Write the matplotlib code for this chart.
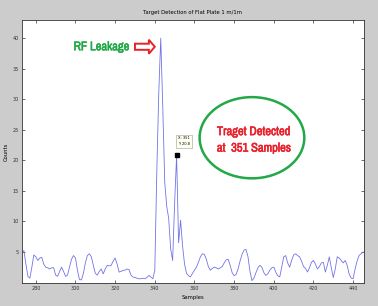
import matplotlib
matplotlib.use("Agg")
import matplotlib.pyplot as plt
import matplotlib.patches as mpatches
import matplotlib.patheffects as pe
from matplotlib import font_manager

# ─── DATA ─────────────────────────────────────────────────────────────────────

samples = list(range(273, 446))
amplitude = [
    5.0, 5.2, 3.0, 1.0, 0.7, 2.5, 4.5, 4.2, 3.6, 4.0,   # 273-282
    4.1, 3.0, 2.5, 2.4, 2.2, 2.4, 2.4, 1.2, 1.0, 1.8,   # 283-292
    2.5, 1.8, 1.0, 1.2, 2.5, 3.8, 4.4, 4.0, 2.0, 0.5,   # 293-302
    0.4, 1.5, 3.2, 4.4, 4.7, 4.2, 2.8, 1.5, 1.2, 1.8,   # 303-312
    2.2, 1.4, 2.2, 2.8, 2.7, 2.8, 3.5, 4.0, 3.0, 1.7,   # 313-322
    1.8, 2.0, 2.0, 2.2, 2.1, 1.2, 0.9, 0.8, 0.7, 0.6,   # 323-332
    0.6, 0.7, 0.6, 0.8, 1.15, 0.9, 0.6, 2.0, 18.0, 31.0,  # 333-342
    40.0, 29.0, 16.5, 12.5, 10.5, 5.5, 3.6, 13.0, 20.8, 6.5,  # 343-352
    10.2, 6.0, 3.0, 1.5, 1.1, 0.9, 1.5, 2.0, 2.5, 3.3,  # 353-362
    4.2, 4.7, 4.6, 3.8, 2.6, 2.0, 2.3, 2.5, 2.4, 2.2,   # 363-372
    2.4, 2.6, 3.2, 3.7, 3.8, 2.8, 1.6, 1.1, 1.3, 2.2,   # 373-382
    3.5, 4.6, 5.3, 5.4, 4.2, 1.8, 0.3, 0.7, 1.6, 2.4,   # 383-392
    2.8, 2.5, 1.6, 1.15, 1.4, 2.0, 2.4, 2.5, 1.7, 1.1,  # 393-402
    0.9, 2.5, 4.2, 4.4, 3.2, 2.5, 3.6, 4.5, 4.7, 4.4,   # 403-412
    4.2, 3.5, 2.6, 2.3, 1.7, 2.4, 3.3, 3.6, 3.0, 2.2,   # 413-422
    2.6, 3.2, 3.3, 1.7, 2.8, 4.2, 2.4, 0.8, 2.2, 4.2,   # 423-432
    4.0, 3.6, 3.2, 3.6, 2.8, 1.4, 0.7, 0.6, 2.2, 3.5,   # 433-442
    4.4, 4.7, 5.0,                                      # 443-445
]
target_sample = 351
target_value = 20.8
xticks = [280, 300, 320, 340, 360, 380, 400, 420, 440]
yticks = [5, 10, 15, 20, 25, 30, 35, 40]

# ─── COLORS ───────────────────────────────────────────────────────────────────

BG = "#cccccc"
LINE = "#7373e6"
GREEN = "#22a847"
RED = "#e8202a"

# look for a condensed face; otherwise fall back to smaller Liberation Sans
narrow = sorted({f.name for f in font_manager.fontManager.ttflist
                 if "narrow" in f.name.lower() or "condensed" in f.name.lower()})
if narrow:
    ANN = dict(family=[narrow[0], "DejaVu Sans"], fontsize=9)
else:
    ANN = dict(family=["Liberation Sans", "DejaVu Sans"], fontsize=6.8)


def bold(color):
    # thicken the strokes a little, the narrow face has no bold weight
    return [pe.withStroke(linewidth=0.4, foreground=color)]


fig = plt.figure(figsize=(3.78, 3.06), dpi=100)
fig.patch.set_facecolor(BG)
ax = fig.add_axes([0.058, 0.075, 0.905, 0.86])
ax.set_facecolor("white")

ax.plot(samples, amplitude, color=LINE, lw=0.6)
ax.plot([target_sample], [target_value], marker="s", color="black", ms=2.6)

ax.set_xlim(273, 445.5)
ax.set_ylim(-0.1, 43)
ax.set_xticks(xticks)
ax.set_yticks(yticks)
ax.tick_params(direction="in", length=2.5, width=0.5, labelsize=3.5,
               top=True, right=True, pad=2, colors="#333333")
for s in ax.spines.values():
    s.set_linewidth(0.6)
    s.set_color("#333333")

ax.set_title("Target Detection of Flat Plate 1 m/1m", fontsize=3.8, pad=4)
ax.set_xlabel("Samples", fontsize=3.8, labelpad=3)
ax.set_ylabel("Counts", fontsize=3.8, labelpad=3)

# ── data tip ──────────────────────────────────────────────────────────────────
ax.text(target_sample + 0.8, target_value + 2.3,
        f"X: {target_sample}\nY: {target_value}",
        fontsize=2.6, va="center", ha="left", linespacing=1.6,
        bbox=dict(boxstyle="square,pad=0.5", fc="#fffff2", ec="#999999", lw=0.4))

# ── RF leakage annotation ─────────────────────────────────────────────────────
ax.text(313, 38.6, "RF Leakage", color=GREEN, fontweight="bold",
        va="center", ha="center", path_effects=bold(GREEN), **ANN)
ax.add_patch(mpatches.FancyArrow(330, 38.6, 10, 0, width=1.0, head_width=2.3,
                                 head_length=3.0, length_includes_head=True,
                                 fc="white", ec=RED, lw=1.4, zorder=5))

# ── target detected ellipse ───────────────────────────────────────────────────
ax.add_patch(mpatches.Ellipse((389, 23.7), 52.8, 13.3, fill=False, ec=GREEN,
                              lw=1.8, zorder=4))
ax.text(371.3, 24.7, "Traget Detected", color=RED, fontweight="bold",
        va="center", ha="left", path_effects=bold(RED), **ANN)
ax.text(371.3, 22.0, "at  351 Samples", color=RED, fontweight="bold",
        va="center", ha="left", path_effects=bold(RED), **ANN)

plt.savefig("out.png", dpi=100, facecolor=BG)
plt.close()
